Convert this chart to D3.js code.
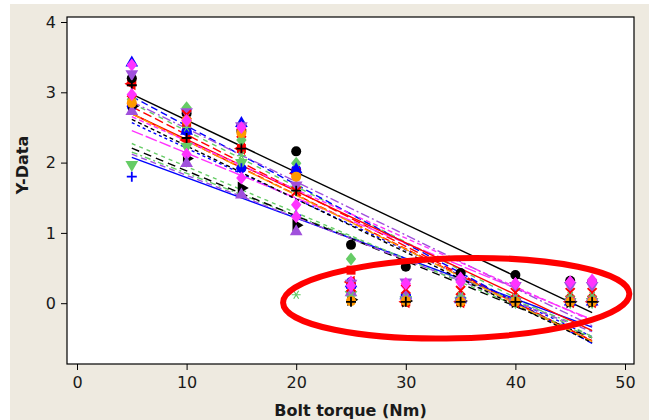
<!DOCTYPE html>
<html>
<head>
<meta charset="utf-8">
<script src="https://cdn.jsdelivr.net/npm/d3@7"></script>
<style>
  html, body { margin: 0; padding: 0; background: #ffffff; }
  svg { display: block; }
  text { font-family: "DejaVu Sans", sans-serif; fill: #1a1a1a; }
</style>
</head>
<body>
<svg id="chart" width="649" height="420"></svg>
<script>
// Torque settings (Nm) at which every specimen was measured
const torque = [5, 10, 15, 20, 25, 30, 35, 40, 45, 47];

// Measured Y values, one array per specimen
const blueCircle         = [2.80, 2.45, 1.92, 1.90, 0.30, 0.10, 0.05, 0.03, 0.02, 0.02];
const redTriangleLeft    = [3.12, 2.32, 2.20, 1.85, 0.30, 0.02, 0.02, 0.02, 0.02, 0.02];
const redSquare          = [3.15, 2.55, 2.20, 1.85, 0.47, 0.02, 0.02, 0.02, 0.02, 0.02];
const blackCircle        = [3.20, 2.70, 2.45, 2.16, 0.83, 0.52, 0.43, 0.40, 0.32, 0.30];
const greenDiamond       = [2.90, 2.78, 2.32, 1.99, 0.63, 0.08, 0.05, 0.05, 0.05, 0.05];
const blueTriangleUp     = [3.42, 2.45, 2.56, 1.90, 0.28, 0.12, 0.05, 0.02, 0.02, 0.02];
const greenTriangleDown  = [1.97, 2.23, 2.00, 1.62, 0.12, 0.05, 0.03, 0.02, 0.02, 0.02];
const bluePlus           = [1.80, 2.44, 1.92, 1.25, 0.22, 0.12, 0.08, 0.05, 0.05, 0.05];
const blackTriangleRight = [2.80, 2.06, 1.64, 1.11, 0.05, 0.03, 0.03, 0.02, 0.02, 0.02];
const magentaDiamond     = [3.39, 2.12, 1.78, 1.23, 0.30, 0.25, 0.36, 0.28, 0.30, 0.33];
const purpleTriangleUp   = [2.73, 1.99, 1.54, 1.02, 0.15, 0.10, 0.08, 0.08, 0.08, 0.08];
const purpleTriangleDown = [3.26, 2.72, 2.52, 1.68, 0.28, 0.30, 0.30, 0.25, 0.25, 0.25];
const redCross           = [2.89, 2.68, 2.42, 1.59, 0.23, 0.20, 0.18, 0.15, 0.15, 0.15];
const greenAsterisk      = [2.85, 2.50, 2.10, 0.12, 0.10, 0.08, 0.10, 0.08, 0.10, 0.10];
const orangeCircle       = [2.85, 2.60, 2.42, 1.80, 0.03, 0.03, 0.02, 0.02, 0.02, 0.02];
const blackPlus          = [3.10, 2.35, 2.20, 1.60, 0.02, 0.02, 0.02, 0.02, 0.02, 0.02];
const magentaDiamond2    = [2.97, 2.60, 2.50, 1.40, 0.25, 0.28, 0.30, 0.28, 0.30, 0.30];

// Axis ticks
const xTicks = [0, 10, 20, 30, 40, 50];
const yTicks = [0, 1, 2, 3, 4];

// Colours and symbols for each specimen
const C = {
  black: "#000000", red: "#ff0000", green: "#66cc66", blue: "#0000ff",
  magenta: "#ff33ff", purple: "#a050dc", orange: "#ff9900"
};
const series = [
  { v: blueCircle,         color: C.blue,    shape: "circle",   dash: "3,3" },
  { v: redTriangleLeft,    color: C.red,     shape: "triLeft",  dash: "7,3" },
  { v: redSquare,          color: C.red,     shape: "square",   dash: "9,4" },
  { v: blackCircle,        color: C.black,   shape: "circle",   dash: null },
  { v: greenDiamond,       color: C.green,   shape: "diamond",  dash: "5,5" },
  { v: blueTriangleUp,     color: C.blue,    shape: "triUp",    dash: "7,4" },
  { v: greenTriangleDown,  color: C.green,   shape: "triDown",  dash: "6,3,2,3" },
  { v: bluePlus,           color: C.blue,    shape: "plus",     dash: null },
  { v: blackTriangleRight, color: C.black,   shape: "triRight", dash: "8,5" },
  { v: magentaDiamond,     color: C.magenta, shape: "diamond",  dash: "12,3" },
  { v: purpleTriangleUp,   color: C.purple,  shape: "triUp",    dash: "6,4" },
  { v: purpleTriangleDown, color: C.purple,  shape: "triDown",  dash: "9,3,2,3" },
  { v: redCross,           color: C.red,     shape: "cross",    dash: null },
  { v: greenAsterisk,      color: C.green,   shape: "asterisk", dash: "4,4" },
  { v: orangeCircle,       color: C.orange,  shape: "circle",   dash: "10,3" },
  { v: blackPlus,          color: C.black,   shape: "plus",     dash: "4,3" },
  { v: magentaDiamond2,    color: C.magenta, shape: "diamond",  dash: "5,3" }
];

const svg = d3.select("#chart");
const W = 649, H = 420;
const plot = { left: 67, right: 634, top: 17, bottom: 364 };

// Panel background
svg.append("rect").attr("x", 10).attr("y", 4).attr("width", W - 10).attr("height", H - 4)
  .attr("fill", "#eeeae0");
svg.append("rect").attr("x", plot.left).attr("y", plot.top)
  .attr("width", plot.right - plot.left).attr("height", plot.bottom - plot.top)
  .attr("fill", "#ffffff");

const x = d3.scaleLinear().domain([0, 50]).range([77, 625]);
const y = d3.scaleLinear().domain([0, 4]).range([303.2, 22]);

// Clip marks to the data region
svg.append("clipPath").attr("id", "clip").append("rect")
  .attr("x", plot.left).attr("y", plot.top)
  .attr("width", plot.right - plot.left).attr("height", plot.bottom - plot.top);
const g = svg.append("g").attr("clip-path", "url(#clip)");

// Least-squares fit of one specimen
function fit(vals) {
  const mx = d3.mean(torque), my = d3.mean(vals);
  let sxy = 0, sxx = 0;
  torque.forEach((t, i) => { sxy += (t - mx) * (vals[i] - my); sxx += (t - mx) * (t - mx); });
  const b = sxy / sxx;
  return t => my + b * (t - mx);
}

const x0 = d3.min(torque), x1 = d3.max(torque);
series.forEach(s => {
  const f = fit(s.v);
  g.append("line")
    .attr("x1", x(x0)).attr("y1", y(f(x0)))
    .attr("x2", x(x1)).attr("y2", y(f(x1)))
    .attr("stroke", s.color).attr("stroke-width", 1.4)
    .attr("stroke-dasharray", s.dash);
});

// Marker drawing
function drawMarker(sel, shape, color) {
  const sym = (type, size) => d3.symbol().type(type).size(size)();
  switch (shape) {
    case "circle":
      sel.append("circle").attr("r", 5).attr("fill", color); break;
    case "square":
      sel.append("rect").attr("x", -4.5).attr("y", -4.5).attr("width", 9).attr("height", 9).attr("fill", color); break;
    case "diamond":
      sel.append("path").attr("d", "M0,-6.5L5.2,0L0,6.5L-5.2,0Z").attr("fill", color); break;
    case "triUp":
      sel.append("path").attr("d", sym(d3.symbolTriangle, 70)).attr("fill", color); break;
    case "triDown":
      sel.append("path").attr("d", sym(d3.symbolTriangle, 70)).attr("transform", "rotate(180)").attr("fill", color); break;
    case "triRight":
      sel.append("path").attr("d", sym(d3.symbolTriangle, 70)).attr("transform", "rotate(90)").attr("fill", color); break;
    case "triLeft":
      sel.append("path").attr("d", sym(d3.symbolTriangle, 70)).attr("transform", "rotate(-90)").attr("fill", color); break;
    case "plus":
      sel.append("path").attr("d", "M-5,0H5M0,-5V5").attr("stroke", color).attr("stroke-width", 1.8).attr("fill", "none"); break;
    case "cross":
      sel.append("path").attr("d", "M-4.5,-4.5L4.5,4.5M-4.5,4.5L4.5,-4.5").attr("stroke", color).attr("stroke-width", 2).attr("fill", "none"); break;
    case "asterisk":
      sel.append("path").attr("d", "M-4.5,0H4.5M-2.5,-4L2.5,4M-2.5,4L2.5,-4").attr("stroke", color).attr("stroke-width", 1.2).attr("fill", "none"); break;
  }
}

series.forEach(s => {
  const pts = g.append("g").selectAll("g").data(s.v).join("g")
    .attr("transform", (d, i) => `translate(${x(torque[i])},${y(d)})`);
  pts.each(function () { drawMarker(d3.select(this), s.shape, s.color); });
});

// Frame
svg.append("rect").attr("x", plot.left).attr("y", plot.top)
  .attr("width", plot.right - plot.left).attr("height", plot.bottom - plot.top)
  .attr("fill", "none").attr("stroke", "#000").attr("stroke-width", 1.2);

// Axes
const yAxis = svg.append("g").attr("transform", `translate(${plot.left},0)`)
  .call(d3.axisLeft(y).tickValues(yTicks).tickSize(6).tickPadding(5).tickFormat(d3.format("d")));
const xAxis = svg.append("g").attr("transform", `translate(0,${plot.bottom})`)
  .call(d3.axisBottom(x).tickValues(xTicks).tickSize(6).tickPadding(7).tickFormat(d3.format("d")));
[yAxis, xAxis].forEach(a => {
  a.select(".domain").remove();
  a.selectAll("line").attr("stroke", "#000");
  a.selectAll("text").attr("font-size", 16).attr("font-family", "DejaVu Sans").attr("fill", "#1a1a1a");
});

// Axis titles
svg.append("text").attr("x", (plot.left + plot.right) / 2).attr("y", 416)
  .attr("text-anchor", "middle").attr("font-size", 16).attr("font-weight", "bold")
  .text("Bolt torque (Nm)");
svg.append("text").attr("transform", "translate(28,165) rotate(-90)")
  .attr("text-anchor", "middle").attr("font-size", 16).attr("font-weight", "bold")
  .text("Y-Data");

// Highlight of the near-zero readings at high torque
const cx = 34.6, cy = 0.07, rxData = 15.8, ryData = 0.57;
svg.append("ellipse")
  .attr("cx", x(cx)).attr("cy", y(cy))
  .attr("rx", x(cx + rxData) - x(cx)).attr("ry", y(cy - ryData) - y(cy))
  .attr("transform", `rotate(-1.5,${x(cx)},${y(cy)})`)
  .attr("fill", "none").attr("stroke", "#ff0000").attr("stroke-width", 6);
</script>
</body>
</html>
